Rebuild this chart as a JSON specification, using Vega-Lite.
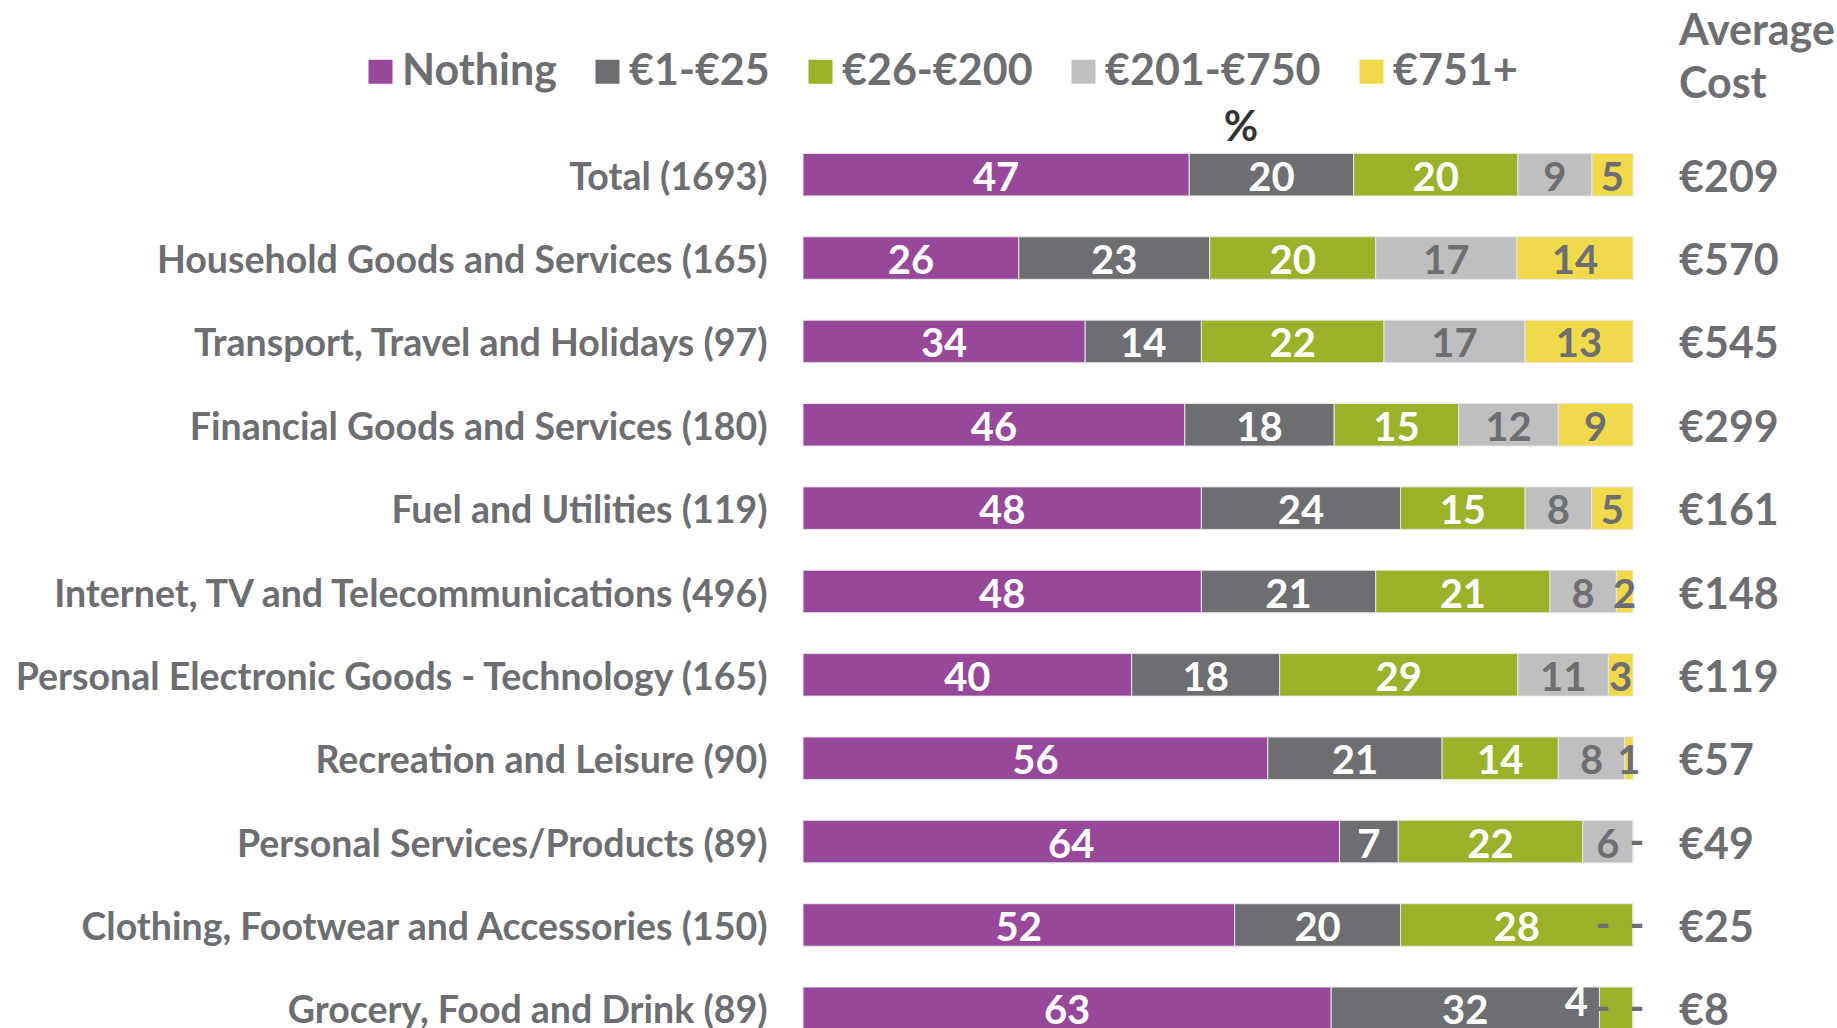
{
  "$schema": "https://vega.github.io/schema/vega-lite/v6.json",
  "width": 830,
  "height": 917,
  "autosize": "none",
  "padding": {"left": 803, "top": 133, "right": 204, "bottom": 0},
  "background": "white",
  "config": {"view": {"stroke": null}, "font": "Lato"},
  "data": {"values": [
    {"cat": "Total (1693)", "seg": "Nothing", "ord": 1, "value": 47, "cost": "€209"},
    {"cat": "Total (1693)", "seg": "€1-€25", "ord": 2, "value": 20, "cost": "€209"},
    {"cat": "Total (1693)", "seg": "€26-€200", "ord": 3, "value": 20, "cost": "€209"},
    {"cat": "Total (1693)", "seg": "€201-€750", "ord": 4, "value": 9, "cost": "€209"},
    {"cat": "Total (1693)", "seg": "€751+", "ord": 5, "value": 5, "cost": "€209"},
    {"cat": "Household Goods and Services (165)", "seg": "Nothing", "ord": 1, "value": 26, "cost": "€570"},
    {"cat": "Household Goods and Services (165)", "seg": "€1-€25", "ord": 2, "value": 23, "cost": "€570"},
    {"cat": "Household Goods and Services (165)", "seg": "€26-€200", "ord": 3, "value": 20, "cost": "€570"},
    {"cat": "Household Goods and Services (165)", "seg": "€201-€750", "ord": 4, "value": 17, "cost": "€570"},
    {"cat": "Household Goods and Services (165)", "seg": "€751+", "ord": 5, "value": 14, "cost": "€570"},
    {"cat": "Transport, Travel and Holidays (97)", "seg": "Nothing", "ord": 1, "value": 34, "cost": "€545"},
    {"cat": "Transport, Travel and Holidays (97)", "seg": "€1-€25", "ord": 2, "value": 14, "cost": "€545"},
    {"cat": "Transport, Travel and Holidays (97)", "seg": "€26-€200", "ord": 3, "value": 22, "cost": "€545"},
    {"cat": "Transport, Travel and Holidays (97)", "seg": "€201-€750", "ord": 4, "value": 17, "cost": "€545"},
    {"cat": "Transport, Travel and Holidays (97)", "seg": "€751+", "ord": 5, "value": 13, "cost": "€545"},
    {"cat": "Financial Goods and Services (180)", "seg": "Nothing", "ord": 1, "value": 46, "cost": "€299"},
    {"cat": "Financial Goods and Services (180)", "seg": "€1-€25", "ord": 2, "value": 18, "cost": "€299"},
    {"cat": "Financial Goods and Services (180)", "seg": "€26-€200", "ord": 3, "value": 15, "cost": "€299"},
    {"cat": "Financial Goods and Services (180)", "seg": "€201-€750", "ord": 4, "value": 12, "cost": "€299"},
    {"cat": "Financial Goods and Services (180)", "seg": "€751+", "ord": 5, "value": 9, "cost": "€299"},
    {"cat": "Fuel and Utilities (119)", "seg": "Nothing", "ord": 1, "value": 48, "cost": "€161"},
    {"cat": "Fuel and Utilities (119)", "seg": "€1-€25", "ord": 2, "value": 24, "cost": "€161"},
    {"cat": "Fuel and Utilities (119)", "seg": "€26-€200", "ord": 3, "value": 15, "cost": "€161"},
    {"cat": "Fuel and Utilities (119)", "seg": "€201-€750", "ord": 4, "value": 8, "cost": "€161"},
    {"cat": "Fuel and Utilities (119)", "seg": "€751+", "ord": 5, "value": 5, "cost": "€161"},
    {"cat": "Internet, TV and Telecommunications (496)", "seg": "Nothing", "ord": 1, "value": 48, "cost": "€148"},
    {"cat": "Internet, TV and Telecommunications (496)", "seg": "€1-€25", "ord": 2, "value": 21, "cost": "€148"},
    {"cat": "Internet, TV and Telecommunications (496)", "seg": "€26-€200", "ord": 3, "value": 21, "cost": "€148"},
    {"cat": "Internet, TV and Telecommunications (496)", "seg": "€201-€750", "ord": 4, "value": 8, "cost": "€148"},
    {"cat": "Internet, TV and Telecommunications (496)", "seg": "€751+", "ord": 5, "value": 2, "cost": "€148"},
    {"cat": "Personal Electronic Goods - Technology (165)", "seg": "Nothing", "ord": 1, "value": 40, "cost": "€119"},
    {"cat": "Personal Electronic Goods - Technology (165)", "seg": "€1-€25", "ord": 2, "value": 18, "cost": "€119"},
    {"cat": "Personal Electronic Goods - Technology (165)", "seg": "€26-€200", "ord": 3, "value": 29, "cost": "€119"},
    {"cat": "Personal Electronic Goods - Technology (165)", "seg": "€201-€750", "ord": 4, "value": 11, "cost": "€119"},
    {"cat": "Personal Electronic Goods - Technology (165)", "seg": "€751+", "ord": 5, "value": 3, "cost": "€119"},
    {"cat": "Recreation and Leisure (90)", "seg": "Nothing", "ord": 1, "value": 56, "cost": "€57"},
    {"cat": "Recreation and Leisure (90)", "seg": "€1-€25", "ord": 2, "value": 21, "cost": "€57"},
    {"cat": "Recreation and Leisure (90)", "seg": "€26-€200", "ord": 3, "value": 14, "cost": "€57"},
    {"cat": "Recreation and Leisure (90)", "seg": "€201-€750", "ord": 4, "value": 8, "cost": "€57"},
    {"cat": "Recreation and Leisure (90)", "seg": "€751+", "ord": 5, "value": 1, "cost": "€57"},
    {"cat": "Personal Services/Products (89)", "seg": "Nothing", "ord": 1, "value": 64, "cost": "€49"},
    {"cat": "Personal Services/Products (89)", "seg": "€1-€25", "ord": 2, "value": 7, "cost": "€49"},
    {"cat": "Personal Services/Products (89)", "seg": "€26-€200", "ord": 3, "value": 22, "cost": "€49"},
    {"cat": "Personal Services/Products (89)", "seg": "€201-€750", "ord": 4, "value": 6, "cost": "€49"},
    {"cat": "Personal Services/Products (89)", "seg": "€751+", "ord": 5, "value": 0, "cost": "€49"},
    {"cat": "Clothing, Footwear and Accessories (150)", "seg": "Nothing", "ord": 1, "value": 52, "cost": "€25"},
    {"cat": "Clothing, Footwear and Accessories (150)", "seg": "€1-€25", "ord": 2, "value": 20, "cost": "€25"},
    {"cat": "Clothing, Footwear and Accessories (150)", "seg": "€26-€200", "ord": 3, "value": 28, "cost": "€25"},
    {"cat": "Clothing, Footwear and Accessories (150)", "seg": "€201-€750", "ord": 4, "value": 0, "cost": "€25"},
    {"cat": "Clothing, Footwear and Accessories (150)", "seg": "€751+", "ord": 5, "value": 0, "cost": "€25"},
    {"cat": "Grocery, Food and Drink (89)", "seg": "Nothing", "ord": 1, "value": 63, "cost": "€8"},
    {"cat": "Grocery, Food and Drink (89)", "seg": "€1-€25", "ord": 2, "value": 32, "cost": "€8"},
    {"cat": "Grocery, Food and Drink (89)", "seg": "€26-€200", "ord": 3, "value": 4, "cost": "€8"},
    {"cat": "Grocery, Food and Drink (89)", "seg": "€201-€750", "ord": 4, "value": 0, "cost": "€8"},
    {"cat": "Grocery, Food and Drink (89)", "seg": "€751+", "ord": 5, "value": 0, "cost": "€8"}
  ]},
  "encoding": {
    "y": {
      "field": "cat", "type": "nominal", "sort": null,
      "scale": {"paddingInner": 0.49, "paddingOuter": 0.245},
      "axis": {"title": null, "domain": false, "ticks": false, "labelFontSize": 37.5, "labelFont": "Lato", "labelFontWeight": "bold", "labelColor": "#6d6e71", "labelPadding": 36, "labelLimit": 900, "labelOffset": 4}
    }
  },
  "layer": [
    {
      "mark": {"type": "bar", "stroke": "#e6e6e6", "strokeWidth": 1},
      "encoding": {
        "x": {"field": "value", "type": "quantitative", "stack": "normalize", "axis": null, "scale": {"domain": [0, 1]}},
        "color": {
          "field": "seg", "type": "nominal",
          "scale": {"domain": ["Nothing", "€1-€25", "€26-€200", "€201-€750", "€751+"], "range": ["#97489a", "#6d6e71", "#9bb12a", "#bfbfbf", "#f0d94b"]},
          "legend": {"orient": "none", "legendX": -444, "legendY": -83, "direction": "horizontal", "title": null, "symbolType": "square", "symbolSize": 576, "labelFontSize": 43, "labelFont": "Lato", "labelFontWeight": "bold", "labelColor": "#6d6e71", "columnPadding": 29, "labelOffset": 0, "padding": 0, "symbolStrokeWidth": 0, "labelLimit": 400}
        },
        "order": {"field": "ord"}
      }
    },
    {
      "transform": [
        {"stack": "value", "groupby": ["cat"], "sort": [{"field": "ord"}], "offset": "normalize", "as": ["x0", "x1"]},
        {"calculate": "(datum.x0 + datum.x1) / 2", "as": "mid"},
        {"filter": "datum.value > 0 && !(datum.ord == 3 && datum.value < 5)"}
      ],
      "mark": {"type": "text", "fontSize": 40, "fontWeight": "bold", "baseline": "middle", "dy": 4},
      "encoding": {
        "x": {"field": "mid", "type": "quantitative"},
        "text": {"field": "value"},
        "color": {"condition": {"test": "datum.ord <= 3", "value": "white"}, "value": "#6d6e71"}
      }
    },
    {
      "transform": [
        {"stack": "value", "groupby": ["cat"], "sort": [{"field": "ord"}], "offset": "normalize", "as": ["x0", "x1"]},
        {"calculate": "(datum.x0 + datum.x1) / 2", "as": "mid"},
        {"filter": "datum.ord == 3 && datum.value > 0 && datum.value < 5"}
      ],
      "mark": {"type": "text", "fontSize": 40, "fontWeight": "bold", "baseline": "middle", "dy": -4, "dx": -40, "color": "white"},
      "encoding": {
        "x": {"field": "mid", "type": "quantitative"},
        "text": {"field": "value"}
      }
    },
    {
      "transform": [{"filter": "datum.value == 0 && datum.ord == 4"}],
      "mark": {"type": "text", "fontSize": 40, "fontWeight": "bold", "baseline": "middle", "dy": 1, "dx": -30, "color": "#6d6e71"},
      "encoding": {
        "x": {"datum": 1, "type": "quantitative"},
        "text": {"value": "-"}
      }
    },
    {
      "transform": [{"filter": "datum.value == 0 && datum.ord == 5"}],
      "mark": {"type": "text", "fontSize": 40, "fontWeight": "bold", "baseline": "middle", "dy": 1, "dx": 4, "color": "#6d6e71"},
      "encoding": {
        "x": {"datum": 1, "type": "quantitative"},
        "text": {"value": "-"}
      }
    },
    {
      "transform": [{"filter": "datum.ord == 1"}],
      "mark": {"type": "text", "fontSize": 43, "fontWeight": "bold", "baseline": "middle", "align": "left", "dx": 46, "dy": 4, "color": "#6d6e71"},
      "encoding": {
        "x": {"datum": 1, "type": "quantitative"},
        "text": {"field": "cost"}
      }
    },
    {
      "transform": [{"filter": "datum.ord == 1 && datum.cat == 'Total (1693)'"}],
      "mark": {"type": "text", "fontSize": 43, "fontWeight": "bold", "baseline": "middle", "align": "left", "dx": 46, "dy": -143, "lineHeight": 53, "color": "#6d6e71"},
      "encoding": {
        "x": {"datum": 1, "type": "quantitative"},
        "text": {"value": ["Average", "Cost"]}
      }
    },
    {
      "transform": [{"filter": "datum.ord == 1 && datum.cat == 'Total (1693)'"}],
      "mark": {"type": "text", "fontSize": 42, "fontWeight": "bold", "baseline": "middle", "align": "center", "dx": 23, "dy": -47, "color": "#333333"},
      "encoding": {
        "x": {"datum": 0.5, "type": "quantitative"},
        "text": {"value": "%"}
      }
    }
  ]
}
